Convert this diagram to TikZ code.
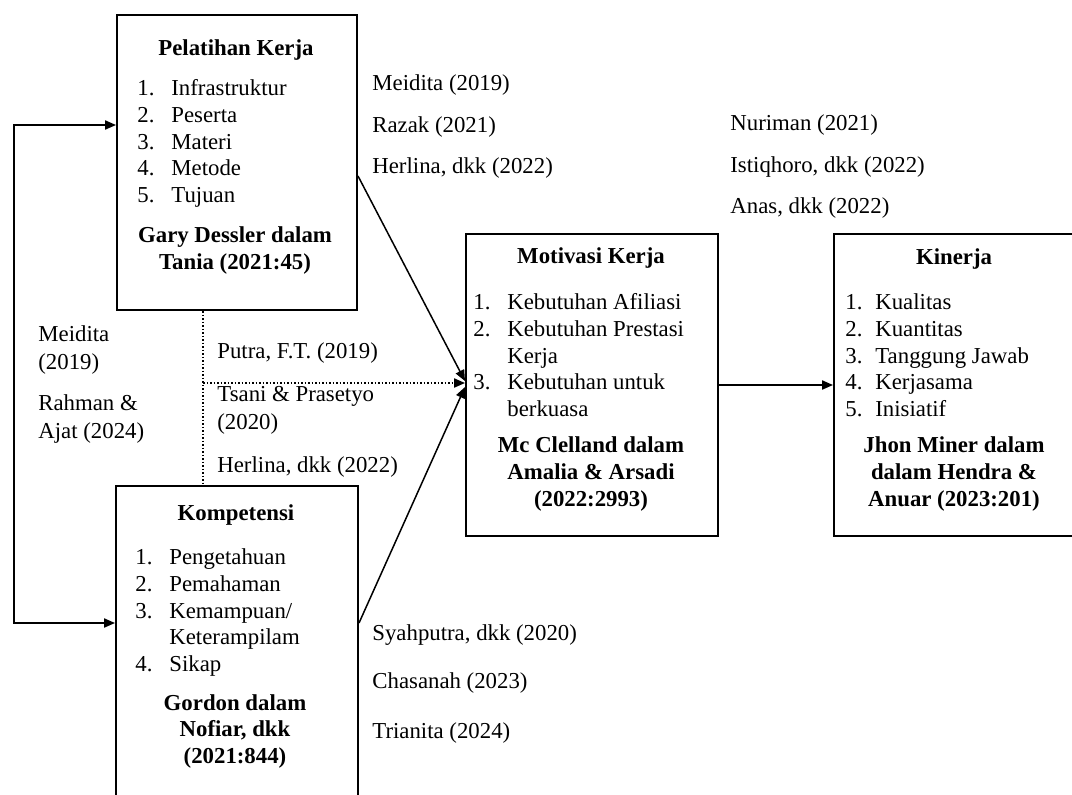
\documentclass[tikz,border=0pt]{standalone}
\usepackage{fontspec}
\setmainfont{Liberation Serif}
\usetikzlibrary{positioning, calc, arrows.meta}

\newcommand{\lnum}[1]{\makebox[17pt][l]{#1}}
\newcommand{\knum}[1]{\makebox[15pt][l]{#1}}

\begin{document}
\begin{tikzpicture}[x=0.5pt,y=-0.5pt,
    >={Triangle[length=5.5pt,width=4.6pt]},
    box/.style={draw, line width=1pt, anchor=north west, inner sep=0pt},
    conn/.style={line width=0.75pt},
    txt/.style={inner sep=0pt, font=\fontsize{11.4pt}{13.4pt}\selectfont},
    lbl/.style={txt, anchor=west, align=left},
    ttl/.style={txt, font=\fontsize{11.4pt}{13.4pt}\selectfont\bfseries, align=center},
    lst/.style={txt, anchor=base west}]
    \clip (0,0) rectangle (1072,794);

    % boxes
    \node[box, minimum width=120pt, minimum height=147.5pt] (pel) at (116,14) {};
    \node[box, minimum width=121pt, minimum height=172.5pt] (komp) at (115,485) {};
    \node[box, minimum width=126pt, minimum height=151pt] (mot) at (465,233) {};
    \node[box, minimum width=121pt, minimum height=151pt] (kin) at (833,233) {};

    % Pelatihan Kerja
    \node[ttl] (pelTtl) at (236,50) {Pelatihan Kerja};
    \node[lst] (pelLst) at (137,95.5) {\begin{tabular}[t]{@{}l@{}}
        \lnum{1.}Infrastruktur\\ \lnum{2.}Peserta\\ \lnum{3.}Materi\\
        \lnum{4.}Metode\\ \lnum{5.}Tujuan
      \end{tabular}};
    \node[ttl] (pelCite) at (235,250.5) {Gary Dessler dalam\\ Tania (2021:45)};

    % Kompetensi
    \node[ttl] (kompTtl) at (236,515) {Kompetensi};
    \node[lst] (kompLst) at (135,564.5) {\begin{tabular}[t]{@{}l@{}}
        \lnum{1.}Pengetahuan\\ \lnum{2.}Pemahaman\\ \lnum{3.}Kemampuan/\\
        \lnum{}Keterampilam\\ \lnum{4.}Sikap
      \end{tabular}};
    \node[ttl] (kompCite) at (235,731.5) {Gordon dalam\\ Nofiar, dkk\\ (2021:844)};

    % Motivasi Kerja
    \node[ttl] (motTtl) at (591,258) {Motivasi Kerja};
    \node[lst] (motLst) at (473,309.5) {\begin{tabular}[t]{@{}l@{}}
        \lnum{1.}Kebutuhan Afiliasi\\ \lnum{2.}Kebutuhan Prestasi\\ \lnum{}Kerja\\
        \lnum{3.}Kebutuhan untuk\\ \lnum{}berkuasa
      \end{tabular}};
    \node[ttl] (motCite) at (591,474) {Mc Clelland dalam\\ Amalia \& Arsadi\\ (2022:2993)};

    % Kinerja
    \node[ttl] (kinTtl) at (954,259) {Kinerja};
    \node[lst] (kinLst) at (845,309.5) {\begin{tabular}[t]{@{}l@{}}
        \knum{1.}Kualitas\\ \knum{2.}Kuantitas\\ \knum{3.}Tanggung Jawab\\
        \knum{4.}Kerjasama\\ \knum{5.}Inisiatif
      \end{tabular}};
    \node[ttl] (kinCite) at (954,474) {Jhon Miner dalam\\ dalam Hendra \&\\ Anuar (2023:201)};

    % references on the links
    \node[lbl] (litPM1) at (372,85) {Meidita (2019)};
    \node[lbl] (litPM2) at (372,127) {Razak (2021)};
    \node[lbl] (litPM3) at (372,168) {Herlina, dkk (2022)};
    \node[lbl] (litMK1) at (730,125) {Nuriman (2021)};
    \node[lbl] (litMK2) at (730,167) {Istiqhoro, dkk (2022)};
    \node[lbl] (litMK3) at (730,208) {Anas, dkk (2022)};
    \node[lbl] (litPK1) at (38,350) {Meidita\\[0.6pt] (2019)};
    \node[lbl] (litPK2) at (38,419.5) {Rahman \&\\[0.6pt] Ajat (2024)};
    \node[lbl] (litDot1) at (217,353) {Putra, F.T. (2019)};
    \node[lbl] (litDot2) at (217,410) {Tsani \& Prasetyo\\[0.6pt] (2020)};
    \node[lbl] (litDot3) at (217,467) {Herlina, dkk (2022)};
    \node[lbl] (litKM1) at (372,635) {Syahputra, dkk (2020)};
    \node[lbl] (litKM2) at (372,683) {Chasanah (2023)};
    \node[lbl] (litKM3) at (372,733) {Trianita (2024)};

    % links
    \coordinate (loopTop) at (14,125);
    \coordinate (loopBot) at (14,623);
    \coordinate (dotJoin) at (203,383);
    \draw[conn, <->] (pel.west |- loopTop) -- (loopTop) -- (loopBot) -- (komp.west |- loopBot);
    \draw[conn, ->] ([yshift=-6.75pt]pel.east) -- ([yshift=2pt]mot.west);
    \draw[conn, ->] (komp.east |- loopBot) -- ([yshift=-1pt]mot.west);
    \draw[conn, densely dotted] (pel.south -| dotJoin) -- (komp.north -| dotJoin);
    \draw[conn, densely dotted, ->] (dotJoin) -- (dotJoin -| mot.west);
    \draw[conn, ->] (mot.east) -- (kin.west);
\end{tikzpicture}
\end{document}
